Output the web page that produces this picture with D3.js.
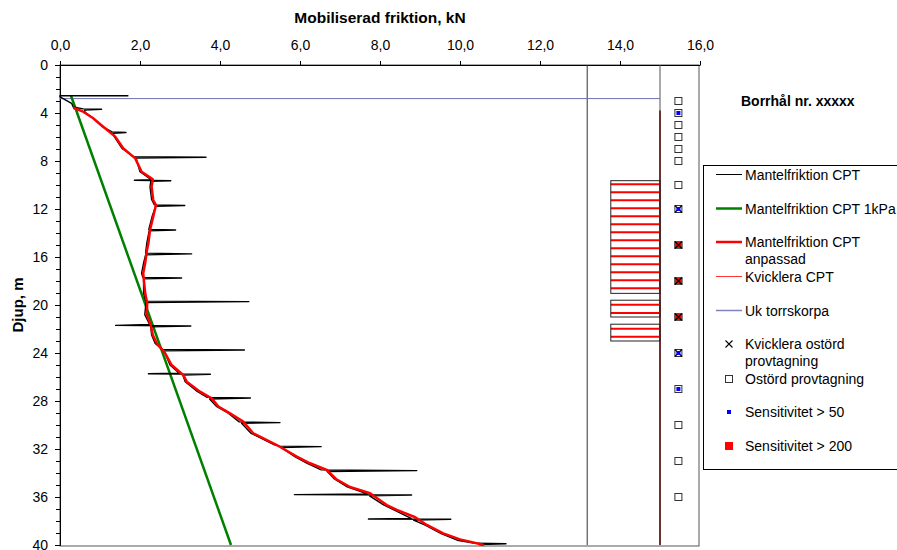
<!DOCTYPE html>
<html>
<head>
<meta charset="utf-8">
<script src="https://cdn.jsdelivr.net/npm/d3@7"></script>
<style>
  body { margin: 0; background: #fff; }
  svg text { font-family: "Liberation Sans", Arial, sans-serif; }
</style>
</head>
<body>
<div id="canvas"></div>
<script>
// DATA ========================================================================

var X_TICKS = [0, 2, 4, 6, 8, 10, 12, 14, 16]
var X_TICK_LABELS = ["0,0", "2,0", "4,0", "6,0", "8,0", "10,0", "12,0", "14,0", "16,0"]
var Y_TICKS = [0, 4, 8, 12, 16, 20, 24, 28, 32, 36, 40]

// Mantelfriktion CPT (value kN, depth m), spikes at rod changes
var CPT = [
    [1.71, 2.56], [0.0, 2.56], [0.0, 2.65], [0.29, 3.19], [0.33, 3.5], [0.58, 3.66],
    [1.04, 3.69], [0.62, 3.75], [0.62, 3.92], [0.83, 4.44], [1.06, 5.14], [1.3, 5.58],
    [1.65, 5.62], [1.33, 5.7], [1.36, 5.98], [1.55, 6.95], [1.84, 7.64], [3.65, 7.69],
    [1.9, 7.75], [2.0, 8.9], [2.28, 9.55], [1.86, 9.61], [2.77, 9.64], [2.27, 9.69],
    [2.25, 10.15], [2.29, 11.2], [2.36, 11.66], [3.12, 11.71], [2.39, 11.78], [2.3, 12.65],
    [2.22, 13.7], [2.89, 13.75], [2.23, 13.81], [2.17, 14.85], [2.14, 15.68], [3.29, 15.74],
    [2.14, 15.82], [2.09, 16.5], [2.04, 17.35], [2.07, 17.7], [3.04, 17.75], [2.09, 17.81],
    [2.09, 19.0], [2.14, 19.68], [4.72, 19.72], [2.15, 19.79], [2.12, 20.8], [2.24, 21.62],
    [1.39, 21.7], [3.27, 21.75], [2.27, 21.81], [2.29, 22.5], [2.38, 23.2], [2.56, 23.7],
    [4.61, 23.75], [2.6, 23.82], [2.75, 25.0], [2.98, 25.68], [2.21, 25.73], [3.76, 25.77],
    [3.07, 25.84], [3.13, 26.4], [3.43, 27.2], [3.68, 27.7], [4.76, 27.75], [3.74, 27.83],
    [3.91, 28.45], [4.2, 29.0], [4.48, 29.74], [5.5, 29.8], [4.54, 29.86], [4.78, 30.7],
    [5.36, 31.66], [5.48, 31.76], [6.53, 31.8], [5.53, 31.87], [5.88, 32.65], [6.18, 33.2],
    [6.53, 33.74], [8.92, 33.8], [6.68, 33.87], [6.86, 34.5], [7.18, 35.15], [7.68, 35.74],
    [5.86, 35.8], [8.79, 35.83], [7.74, 35.9], [8.09, 36.66], [8.36, 37.1], [8.78, 37.78],
    [7.71, 37.83], [9.77, 37.86], [8.84, 37.92], [9.13, 38.35], [9.53, 39.05], [9.93, 39.6],
    [10.38, 39.86], [11.15, 39.9], [10.48, 39.96], [10.58, 40.0]
]

// Mantelfriktion CPT anpassad
var CPT_ADJUSTED = [
    [0.33, 3.56], [0.58, 3.89], [0.83, 4.44], [1.08, 5.14], [1.38, 5.97], [1.58, 6.94],
    [1.88, 7.78], [2.04, 8.89], [2.32, 9.53], [2.29, 10.14], [2.33, 11.25], [2.4, 11.67],
    [2.33, 12.64], [2.25, 13.75], [2.21, 14.86], [2.17, 15.5], [2.13, 16.5], [2.08, 17.36],
    [2.13, 19.03], [2.18, 19.86], [2.17, 20.83], [2.27, 21.67], [2.32, 22.5], [2.42, 23.19],
    [2.63, 24.03], [2.79, 25.0], [3.08, 25.83], [3.17, 26.39], [3.5, 27.22], [3.79, 27.78],
    [3.96, 28.47], [4.25, 29.03], [4.58, 29.72], [4.83, 30.69], [5.42, 31.67], [5.92, 32.64],
    [6.25, 33.19], [6.67, 33.75], [6.9, 34.5], [7.25, 35.17], [7.75, 35.69], [8.17, 36.67],
    [8.42, 37.08], [8.88, 37.69], [9.17, 38.33], [9.58, 39.03], [10.0, 39.53], [10.6, 40.0]
]

// Mantelfriktion CPT 1kPa
var CPT_1KPA = [[0.275, 2.56], [4.275, 40.0]]

// Uk torrskorpa
var CRUST_DEPTH = 2.8
var CRUST_X = [0, 15]

// Kvicklera CPT
var QUICK_X = [13.77, 15]
var QUICK_BOXES = [[9.64, 19.03], [19.6, 21.0], [21.6, 23.0]]
var QUICK_DEPTHS = [9.94, 10.61, 11.28, 11.94, 12.61, 13.28, 13.94, 14.61, 15.28, 15.94,
    16.61, 17.28, 17.94, 18.61, 19.97, 20.67, 21.97, 22.64]

// Column borders
var COLUMN_X = [13.18, 15]
var PROFILE_TOP = 3.8

// Provtagning
var SAMPLE_X = 15.46
var SAMPLE_DEPTHS = [3, 4, 5, 6, 7, 8, 10, 12, 15, 18, 21, 24, 27, 30, 33, 36]
var QUICK_SAMPLES = [12, 15, 18, 21, 24]
var SENS_50 = [4, 12, 24, 27]
var SENS_200 = [15, 18, 21]

var LEGEND = [
    { "type": "line", "color": "#000", "width": 1, "text": ["Mantelfriktion CPT"] },
    { "type": "line", "color": "#008000", "width": 2.5, "text": ["Mantelfriktion CPT 1kPa"] },
    { "type": "line", "color": "#ff0000", "width": 2.5, "text": ["Mantelfriktion CPT", "anpassad"] },
    { "type": "line", "color": "#ff3333", "width": 1, "text": ["Kvicklera CPT"] },
    { "type": "line", "color": "#8080c0", "width": 1.5, "text": ["Uk torrskorpa"] },
    { "type": "cross", "text": ["Kvicklera ostörd", "provtagning"] },
    { "type": "square", "text": ["Ostörd provtagning"] },
    { "type": "dot", "text": ["Sensitivitet > 50"] },
    { "type": "red", "text": ["Sensitivitet > 200"] }
]
var LEGEND_Y = [174.5, 208.5, 242, 276.5, 310.5, 344, 379, 412, 446]

// LAYOUT ======================================================================

var WIDTH = 897
var HEIGHT = 550
var FONT = 14

var M = { "left": 60, "top": 65, "right": 700, "bottom": 545 }

var SVG = d3.select("#canvas").append("svg")
    .attr("width", WIDTH)
    .attr("height", HEIGHT)

var X = d3.scaleLinear().domain([0, 16]).range([M.left, M.right])
var Y = d3.scaleLinear().domain([0, 40]).range([M.top, M.bottom])

var line = d3.line().x(d => X(d[0])).y(d => Y(d[1]))

// FRAME & AXES ================================================================

SVG.append("rect")
    .attr("x", M.left)
    .attr("y", M.top)
    .attr("width", X(16) - M.left - 1)
    .attr("height", Y(40) - M.top + 1)
    .attr("fill", "none")
    .attr("stroke", "#555")

SVG.append("g")
    .attr("transform", translate(0, M.top))
    .call(d3.axisTop(X).tickValues(X_TICKS).tickFormat((d, i) => X_TICK_LABELS[i])
        .tickSize(4).tickSizeOuter(0).tickPadding(11))
    .call(g => g.selectAll("text").attr("font-size", FONT).attr("font-family", null).attr("fill", "#000"))
    .call(g => g.selectAll("line, path").attr("stroke", "#000"))

SVG.append("g")
    .attr("transform", translate(M.left, 0))
    .call(d3.axisLeft(Y).tickValues(d3.range(0, 41)).tickFormat("").tickSize(4).tickSizeOuter(0))
    .call(g => g.selectAll("line, path").attr("stroke", "#000"))

SVG.append("g")
    .attr("transform", translate(M.left, 0))
    .call(d3.axisLeft(Y).tickValues(Y_TICKS).tickSize(5).tickSizeOuter(0).tickPadding(7))
    .call(g => g.selectAll("text").attr("font-size", FONT).attr("font-family", null).attr("fill", "#000"))
    .call(g => g.selectAll("line, path").attr("stroke", "#000"))

SVG.append("text")
    .text("Mobiliserad friktion, kN")
    .attr("x", (M.left + M.right)/2)
    .attr("y", 23)
    .attr("text-anchor", "middle")
    .attr("font-size", 15.5)
    .attr("font-weight", "bold")

SVG.append("text")
    .text("Djup, m")
    .attr("transform", translate(23, 305) + " rotate(-90)")
    .attr("text-anchor", "middle")
    .attr("font-size", 15)
    .attr("font-weight", "bold")

SVG.append("text")
    .text("Borrhål nr. xxxxx")
    .attr("x", 741)
    .attr("y", 106)
    .attr("font-size", FONT)
    .attr("font-weight", "bold")

// SERIES ======================================================================

// Column borders.
SVG.append("line")
    .attr("x1", X(COLUMN_X[0])).attr("x2", X(COLUMN_X[0]))
    .attr("y1", Y(0)).attr("y2", Y(40))
    .attr("stroke", "#333")
SVG.append("line")
    .attr("x1", X(COLUMN_X[1])).attr("x2", X(COLUMN_X[1]))
    .attr("y1", Y(0)).attr("y2", Y(40))
    .attr("stroke", "#555")
SVG.append("line")
    .attr("x1", X(COLUMN_X[1])).attr("x2", X(COLUMN_X[1]))
    .attr("y1", Y(PROFILE_TOP)).attr("y2", Y(40))
    .attr("stroke", "#5a0a0a")
    .attr("stroke-width", 1.5)

// Uk torrskorpa.
SVG.append("line")
    .attr("x1", X(CRUST_X[0])).attr("x2", X(CRUST_X[1]))
    .attr("y1", Y(CRUST_DEPTH)).attr("y2", Y(CRUST_DEPTH))
    .attr("stroke", "#7070b8")

// Kvicklera CPT.
SVG.append("g").selectAll("line")
    .data(QUICK_DEPTHS).enter()
    .append("line")
        .attr("x1", X(QUICK_X[0]))
        .attr("x2", X(QUICK_X[1]))
        .attr("y1", d => Y(d))
        .attr("y2", d => Y(d))
        .attr("stroke", "#ff0000")
        .attr("stroke-width", 2)

SVG.append("g").selectAll("rect")
    .data(QUICK_BOXES).enter()
    .append("rect")
        .attr("x", X(QUICK_X[0]))
        .attr("y", d => Y(d[0]))
        .attr("width", X(QUICK_X[1]) - X(QUICK_X[0]))
        .attr("height", d => Y(d[1]) - Y(d[0]))
        .attr("fill", "none")
        .attr("stroke", "#222")

// Friction profiles.
SVG.append("path")
    .attr("d", line(CPT_1KPA))
    .attr("fill", "none")
    .attr("stroke", "#008000")
    .attr("stroke-width", 2.5)

SVG.append("path")
    .attr("d", line(CPT))
    .attr("fill", "none")
    .attr("stroke", "#000")
    .attr("stroke-width", 1.4)
    .attr("stroke-linejoin", "round")

SVG.append("path")
    .attr("d", line(CPT_ADJUSTED))
    .attr("fill", "none")
    .attr("stroke", "#ff0000")
    .attr("stroke-width", 2.5)
    .attr("stroke-linejoin", "round")

// Sample markers.
let samples = SVG.append("g")
SAMPLE_DEPTHS.forEach(d => square(samples, X(SAMPLE_X), Y(d)))
SENS_200.forEach(d => redSquare(samples, X(SAMPLE_X), Y(d)))
QUICK_SAMPLES.forEach(d => cross(samples, X(SAMPLE_X), Y(d)))
SENS_50.forEach(d => dot(samples, X(SAMPLE_X), Y(d)))

// LEGEND ======================================================================

let legend = SVG.append("g")

legend.append("rect")
    .attr("x", 703.5)
    .attr("y", 165.5)
    .attr("width", 200)
    .attr("height", 304)
    .attr("fill", "#fff")
    .attr("stroke", "#000")

LEGEND.forEach(function(e, i) {
    let cy = LEGEND_Y[i]
    if (e.type === "line") {
        legend.append("line")
            .attr("x1", 716).attr("x2", 742)
            .attr("y1", cy).attr("y2", cy)
            .attr("stroke", e.color)
            .attr("stroke-width", e.width)
    } else if (e.type === "cross") {
        cross(legend, 729, cy)
    } else if (e.type === "square") {
        square(legend, 729, cy)
    } else if (e.type === "dot") {
        dot(legend, 729, cy)
    } else if (e.type === "red") {
        legend.append("rect")
            .attr("x", 725).attr("y", cy - 4)
            .attr("width", 8).attr("height", 8)
            .attr("fill", "#ff0000")
    }

    e.text.forEach(function(t, j) {
        legend.append("text")
            .text(t)
            .attr("x", 745)
            .attr("y", Math.round(cy) + 5 + j*16.5)
            .attr("font-size", FONT)
    })
})

// -----------------------------------------------------------------------------

function translate(x, y) {
    return "translate(" + x + "," + y + ")"
}

function square(g, x, y) {
    g.append("rect")
        .attr("x", x - 3.5).attr("y", y - 3.5)
        .attr("width", 7).attr("height", 7)
        .attr("fill", "#fff")
        .attr("stroke", "#333")
}

function redSquare(g, x, y) {
    g.append("rect")
        .attr("x", x - 3.5).attr("y", y - 3.5)
        .attr("width", 7).attr("height", 7)
        .attr("fill", "#ff0000")
        .attr("stroke", "#555")
}

function cross(g, x, y) {
    g.append("path")
        .attr("d", "M" + (x - 3.5) + "," + (y - 3.5) + "L" + (x + 3.5) + "," + (y + 3.5)
            + "M" + (x - 3.5) + "," + (y + 3.5) + "L" + (x + 3.5) + "," + (y - 3.5))
        .attr("stroke", "#000")
        .attr("stroke-width", 1.1)
}

function dot(g, x, y) {
    g.append("rect")
        .attr("x", x - 2).attr("y", y - 2)
        .attr("width", 4).attr("height", 4)
        .attr("fill", "#0000ff")
}
</script>
</body>
</html>
